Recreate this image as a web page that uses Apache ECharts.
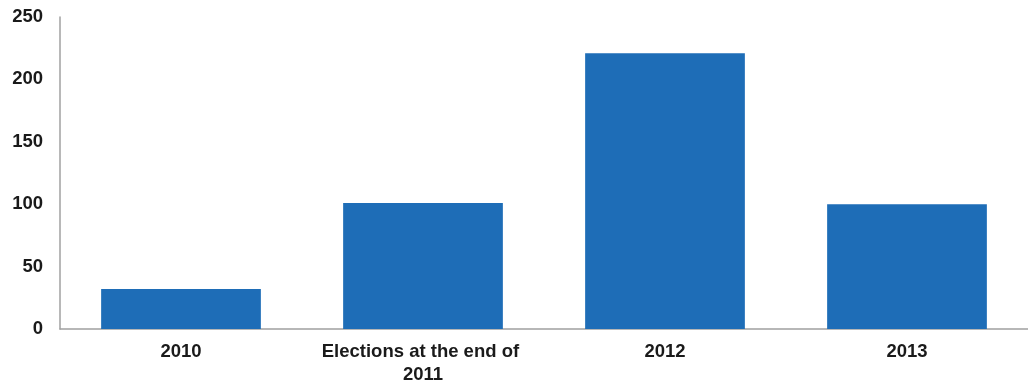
<!DOCTYPE html>
<html><head><meta charset="utf-8">
<script src="https://cdn.jsdelivr.net/npm/echarts@6/dist/echarts.min.js"></script>
<style>html,body{margin:0;padding:0;background:#fff}#c{width:1028px;height:386px}</style>
</head><body><div id="c"></div>
<script>
const categories = ['2010', 'Elections at the end of 2011', '2012', '2013'];
const values = [32, 101, 221, 100];
const yTicks = [0, 50, 100, 150, 200, 250];

const chart = echarts.init(document.getElementById('c'));
chart.setOption({
  animation: false,
  grid: { left: 60, right: 0, top: 17, bottom: 55, containLabel: false },
  xAxis: {
    type: 'category', data: categories,
    axisLine: { lineStyle: { color: '#a0a0a0', width: 1.5 } },
    axisTick: { show: false },
    axisLabel: { color: '#1a1a1a', fontFamily: 'Liberation Sans, Arial', fontWeight: 'bold', fontSize: 18.5,
      margin: 11, width: 220, overflow: 'break', interval: 0, lineHeight: 23 }
  },
  yAxis: {
    type: 'value', min: yTicks[0], max: yTicks[yTicks.length - 1], interval: 50,
    axisLine: { show: true, lineStyle: { color: '#a0a0a0', width: 1.5 } },
    axisTick: { show: false },
    splitLine: { show: false },
    axisLabel: { color: '#1a1a1a', fontFamily: 'Liberation Sans, Arial', fontWeight: 'bold', fontSize: 18.5, margin: 17 }
  },
  series: [{
    type: 'bar', data: values, barWidth: '66%',
    itemStyle: { color: '#1e6db7' }
  }]
});
</script></body></html>
